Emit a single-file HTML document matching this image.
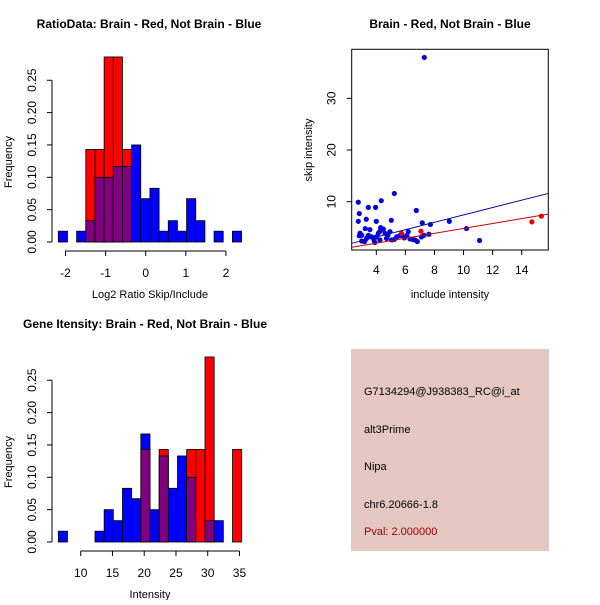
<!DOCTYPE html>
<html><head><meta charset="utf-8"><style>
body{margin:0;background:#fff}
svg text{font-family:"Liberation Sans",sans-serif}
</style></head><body>
<svg id="c" width="600" height="600" xmlns="http://www.w3.org/2000/svg">
<rect x="351" y="349" width="198" height="202" fill="#e5c7c1"/>
<text x="364" y="395" font-size="11">G7134294@J938383_RC@i_at</text>
<text x="364" y="433" font-size="11">alt3Prime</text>
<text x="364" y="470" font-size="11">Nipa</text>
<text x="364" y="508" font-size="11">chr6.20666-1.8</text>
<text x="364" y="535" font-size="11" fill="#a00000">Pval: 2.000000</text>
</svg>
<script>
const svg=document.getElementById('c');
const NS='http://www.w3.org/2000/svg';
function mk(t,a,txt){const e=document.createElementNS(NS,t);for(const k in a)e.setAttribute(k,a[k]);if(txt!=null)e.textContent=txt;svg.appendChild(e);return e;}

// Histogram 1 data
const ratioBlue=[0.0167,0,0.0167,0.033,0.1,0.1,0.117,0.117,0.15,0.067,0.083,0.0167,0.033,0.0167,0.067,0.033,0,0.0167,0,0.0167];
const ratioRed=[0,0,0,0.143,0.143,0.286,0.286,0.143,0,0,0,0,0,0,0,0,0,0,0,0];
const ratioXTicks=[-2,-1,0,1,2];
// Histogram 2 data
const intBlue=[0.0167,0,0,0,0.0167,0.05,0.033,0.083,0.067,0.167,0.05,0.133,0.083,0.133,0.1,0,0.033,0.033,0,0];
const intRed=[0,0,0,0,0,0,0,0,0,0.143,0,0.143,0,0,0.143,0.143,0.286,0,0,0.143];
const intXTicks=[10,15,20,25,30,35];
const freqTicks=[0,0.05,0.10,0.15,0.20,0.25];
// Scatter data
const blueX=[2.76,2.83,2.76,2.88,2.83,3.45,3.95,4.34,5.24,3.31,4.0,3.56,3.24,5.03,6.75,7.16,7.72,9.02,10.2,11.1,7.3,7.28,7.62,3.0,3.2,3.45,3.68,3.84,4.0,4.14,4.25,4.3,4.48,4.6,4.7,4.8,4.94,5.05,5.24,5.4,5.58,5.74,5.93,6.09,6.2,6.32,6.5,6.66,6.82,7.1,4.25,3.9,3.33,3.0];
const blueY=[9.9,7.7,6.2,3.9,3.4,8.9,8.9,10.2,11.6,6.6,6.2,4.6,4.8,6.4,8.3,5.9,5.6,6.2,4.8,2.5,37.9,3.5,3.7,2.4,2.3,3.5,3.2,2.6,3.2,3.9,4.3,5.0,4.7,3.9,2.9,3.5,4.2,2.6,2.7,3.2,3.4,3.5,3.0,3.5,4.2,2.8,2.7,2.6,2.3,3.2,2.6,2.1,2.9,3.5];
const redX=[5.74,7.07,14.7,15.35];
const redY=[3.9,4.3,6.1,7.2];
const blueLine=[1.95,11.6]; // y at x-range ends
const redLine=[1.18,7.6];
const scXTicks=[4,6,8,10,12,14];
const scYTicks=[10,20,30];

function hist(ox,oy,x0,bw,pxu,blue,red,xt,title,xlab,tx){
  const X=v=>ox+(v-x0)*pxu; const Y=v=>oy-v*647;
  for(let i=0;i<blue.length;i++){
    const b=blue[i],r=red[i];const xl=X(x0+i*bw),w=bw*pxu;
    const hi=Math.max(b,r),lo=Math.min(b,r);
    if(hi>0){const e=mk('rect',{x:xl,y:Y(hi),width:w,height:Y(0)-Y(hi),fill:b>=r?'#0000ff':'#ff0000',stroke:'#000','stroke-width':0.8});
      }
    if(lo>0){const e=mk('rect',{x:xl,y:Y(lo),width:w,height:Y(0)-Y(lo),fill:'#800080',stroke:'#000','stroke-width':0.8});
      }
  }
  const yx=52;
  let e=mk('line',{x1:yx,x2:yx,y1:Y(0),y2:Y(0.25),stroke:'#000'});
  
  freqTicks.forEach(t=>{mk('line',{x1:yx-5,x2:yx,y1:Y(t),y2:Y(t),stroke:'#000'});
    const l=mk('text',{x:0,y:0,'font-size':12,'text-anchor':'middle',transform:`translate(${yx-16},${Y(t)}) rotate(-90)`},t.toFixed(2));
    });
  const ay=oy+9;
  e=mk('line',{x1:X(xt[0]),x2:X(xt[xt.length-1]),y1:ay,y2:ay,stroke:'#000'});
  
  xt.forEach(t=>{mk('line',{x1:X(t),x2:X(t),y1:ay,y2:ay+5,stroke:'#000'});
    const l=mk('text',{x:X(t),y:ay+26,'font-size':12,'text-anchor':'middle'},String(t));
    });
  e=mk('text',{x:0,y:0,'font-size':11,'text-anchor':'middle',transform:`translate(12,${oy-80}) rotate(-90)`},'Frequency');
  
  e=mk('text',{x:150,y:oy+56,'font-size':11,'text-anchor':'middle'},xlab);
  
  e=mk('text',{x:tx,y:oy-214,'font-size':12,'font-weight':'bold','text-anchor':'middle'},title);
  
}
hist(58.3,242,-2.18,0.2285,40.1,ratioBlue,ratioRed,ratioXTicks,'RatioData: Brain - Red, Not Brain - Blue','Log2 Ratio Skip/Include',149);
hist(58.3,542,6.47,1.444,6.35,intBlue,intRed,intXTicks,'Gene Itensity: Brain - Red, Not Brain - Blue','Intensity',145);

// Scatter
const L=351.7,R=548.3,T=49.3,B=250;
const sx=v=>376.3+(v-4)*14.54, sy=v=>201.7-(v-10)*5.17;
let e=mk('rect',{x:L,y:T,width:R-L,height:B-T,fill:'none',stroke:'#000'});

blueX.forEach((x,i)=>{const c=mk('circle',{cx:sx(x),cy:sy(blueY[i]),r:2.6,fill:'#0000dd'});
  });
redX.forEach((x,i)=>{const c=mk('circle',{cx:sx(x),cy:sy(redY[i]),r:2.6,fill:'#ee0000'});
  });
e=mk('line',{x1:L,x2:R,y1:sy(blueLine[0]),y2:sy(blueLine[1]),stroke:'#0000aa'});

e=mk('line',{x1:L,x2:R,y1:sy(redLine[0]),y2:sy(redLine[1]),stroke:'#cc0000'});

scXTicks.forEach(t=>{mk('line',{x1:sx(t),x2:sx(t),y1:B,y2:B+5,stroke:'#000'});
  const l=mk('text',{x:sx(t),y:B+24,'font-size':12,'text-anchor':'middle'},String(t));
  });
scYTicks.forEach(t=>{mk('line',{x1:L-5,x2:L,y1:sy(t),y2:sy(t),stroke:'#000'});
  const l=mk('text',{x:0,y:0,'font-size':12,'text-anchor':'middle',transform:`translate(${L-16},${sy(t)}) rotate(-90)`},String(t));
  });
e=mk('text',{x:450,y:298,'font-size':11,'text-anchor':'middle'},'include intensity');

e=mk('text',{x:0,y:0,'font-size':11,'text-anchor':'middle',transform:'translate(312,150) rotate(-90)'},'skip intensity');

e=mk('text',{x:450,y:28,'font-size':12,'font-weight':'bold','text-anchor':'middle'},'Brain - Red, Not Brain - Blue');

</script>
</body></html>
